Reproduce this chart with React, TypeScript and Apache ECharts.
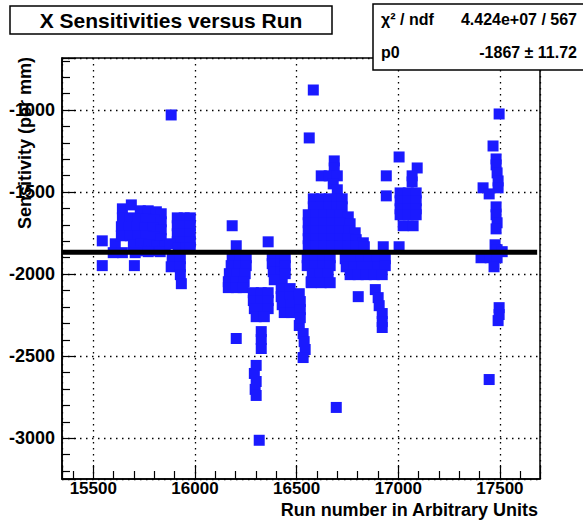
import React, { useEffect, useRef } from 'react';
import * as echarts from 'echarts';

// Axis extents (run number, sensitivity in per mm)
const runRange = [15346, 17697];
const sensRange = [-3248, -683];

// Constant (pol0) fit result
const fitP0 = -1867;
const fitEnd = 17683;

const chartTitle = 'X Sensitivities versus Run';
const xTitle = 'Run number in Arbitrary Units';
const yTitle = 'Sensitivity (per mm)';
const statsLabels = ['χ² / ndf', 'p0'];
const statsValues = ['4.424e+07 / 567', '-1867 ± 11.72'];

// [run, sensitivity] pairs, grouped by run period
const period1 = [
  [15544, -1797], [15544, -1948], [15702, -1948], [15608, -1815], [15598, -1869], [15643, -1869],
  [15643, -1602], [15687, -1578], [15731, -1614], [15770, -1614], [15810, -1620], [15834, -1632],
  [15643, -1657], [15682, -1657], [15721, -1663], [15761, -1663], [15800, -1669], [15834, -1681],
  [15638, -1711], [15677, -1711], [15716, -1711], [15756, -1717], [15795, -1717], [15834, -1730],
  [15638, -1766], [15682, -1766], [15721, -1766], [15761, -1766], [15800, -1772], [15834, -1784],
  [15697, -1821], [15736, -1815], [15775, -1821], [15815, -1827], [15854, -1827],
  [15711, -1857], [15751, -1857], [15790, -1857], [15829, -1863], [15706, -1869], [15770, -1863],
  [15913, -1657], [15947, -1657], [15977, -1657],
  [15913, -1705], [15947, -1705], [15977, -1705],
  [15913, -1754], [15947, -1754], [15977, -1754],
  [15913, -1803], [15947, -1803], [15977, -1803],
  [15879, -1815], [15918, -1839], [15957, -1839], [15977, -1839],
  [15888, -1906], [15928, -1906], [15883, -1955], [15928, -1955], [15928, -2003], [15933, -2058],
  [15883, -1030],
];

const period2 = [
  [16183, -1705], [16203, -1827],
  [16183, -1900], [16223, -1900], [16252, -1900],
  [16178, -1948], [16218, -1948], [16252, -1948],
  [16169, -1997], [16208, -1997], [16247, -1997],
  [16164, -2046], [16203, -2046], [16242, -2046],
  [16164, -2082], [16203, -2082], [16237, -2082],
  [16360, -1803],
  [16380, -1888], [16424, -1888], [16380, -1936], [16424, -1936],
  [16385, -1985], [16424, -1985], [16390, -2034], [16429, -2034],
  [16287, -2113], [16326, -2113], [16360, -2113],
  [16287, -2161], [16326, -2161], [16360, -2161],
  [16292, -2210], [16331, -2210], [16360, -2210],
  [16301, -2259], [16341, -2259],
  [16424, -2088], [16468, -2088], [16424, -2137], [16468, -2137],
  [16429, -2186], [16473, -2186], [16439, -2234], [16473, -2234],
  [16326, -2350], [16326, -2398], [16326, -2453],
  [16301, -2556], [16292, -2605], [16301, -2654], [16296, -2702], [16301, -2739],
  [16203, -2392], [16316, -3012],
  [16444, -1900], [16444, -1948], [16444, -1997],
];

const period3 = [
  [16513, -2313], [16532, -2362], [16537, -2411], [16542, -2459], [16532, -2508],
  [16513, -2119], [16518, -2167], [16518, -2216], [16518, -2265], [16572, -2046],
  [16685, -1310], [16685, -1353],
  [16621, -1401], [16660, -1401], [16700, -1401],
  [16680, -1450], [16700, -1486],
  [16582, -1541], [16621, -1541], [16660, -1541], [16700, -1541], [16724, -1541],
  [16582, -1590], [16621, -1590], [16660, -1590], [16700, -1590], [16724, -1590],
  [16557, -1638], [16596, -1638], [16636, -1638], [16675, -1638], [16714, -1638], [16754, -1651],
  [16557, -1687], [16596, -1687], [16636, -1687], [16675, -1687], [16714, -1687], [16763, -1693],
  [16557, -1736], [16596, -1736], [16636, -1736], [16675, -1736], [16714, -1736], [16759, -1736], [16788, -1748],
  [16557, -1784], [16596, -1784], [16636, -1784], [16675, -1784], [16714, -1784], [16754, -1784], [16793, -1790], [16828, -1809],
  [16557, -1827], [16596, -1827], [16636, -1827], [16675, -1827], [16714, -1827], [16754, -1827], [16793, -1827], [16833, -1833],
  [16926, -1833],
  [16552, -1900], [16591, -1900], [16631, -1900], [16665, -1900],
  [16552, -1948], [16591, -1948], [16631, -1948], [16665, -1948],
  [16577, -1997], [16616, -1997], [16655, -1997],
  [16572, -2052], [16621, -2052], [16665, -2052],
  [16739, -1906], [16778, -1906], [16818, -1906], [16857, -1906], [16896, -1906], [16936, -1906],
  [16744, -1955], [16783, -1955], [16823, -1955], [16862, -1955], [16901, -1955], [16936, -1948],
  [16763, -2003], [16803, -2003], [16842, -2003], [16882, -2003], [16921, -2003],
  [16803, -2137],
  [16887, -2094], [16901, -2143], [16906, -2192], [16921, -2240], [16921, -2289], [16921, -2325],
  [16582, -878], [16562, -1170], [16941, -1401], [16941, -1523], [16695, -2812],
];

const period4 = [
  [17004, -1286], [17093, -1353], [17068, -1401], [17068, -1438],
  [17009, -1505], [17049, -1505], [17088, -1505],
  [17009, -1553], [17049, -1553], [17088, -1553],
  [17009, -1602], [17049, -1602], [17088, -1602],
  [17009, -1638], [17049, -1638], [17088, -1638],
  [17024, -1705], [17073, -1705],
  [17004, -1833],
];

const period5 = [
  [17496, -1024], [17466, -1219], [17481, -1298], [17481, -1334],
  [17486, -1383], [17491, -1432], [17491, -1474], [17417, -1474], [17447, -1511],
  [17481, -1590], [17481, -1638], [17486, -1687], [17481, -1724],
  [17476, -1821], [17486, -1851], [17511, -1863],
  [17407, -1900], [17452, -1900], [17486, -1900], [17471, -1955],
  [17496, -2204], [17496, -2246], [17491, -2283], [17447, -2642],
];

const FONT = "'Liberation Sans', Arial, Helvetica, sans-serif";
const MARKER_BLUE = '#1a1aff';

function axisCommon(range: number[], labelMargin: number, labelSize: number) {
  return {
    type: 'value' as const,
    min: range[0],
    max: range[1],
    minInterval: 500,
    maxInterval: 500,
    axisLine: { show: true, onZero: false, lineStyle: { color: '#000', width: 1.5 } },
    axisTick: { show: true, inside: true, length: 14, lineStyle: { color: '#000', width: 1.2 } },
    minorTick: { show: true, splitNumber: 5, length: 8, lineStyle: { color: '#000', width: 1.2 } },
    minorSplitLine: { show: false },
    axisLabel: {
      show: true,
      margin: labelMargin,
      color: '#000',
      fontFamily: FONT,
      fontWeight: 'bold' as const,
      fontSize: labelSize,
      lineHeight: labelSize,
      showMinLabel: false,
      showMaxLabel: false,
      formatter: (v: number) => String(v),
    },
    splitLine: { show: true, lineStyle: { color: '#000', width: 1.3, type: [1.5, 4.5] } },
  };
}

export default function App() {
  const ref = useRef<HTMLDivElement>(null);

  useEffect(() => {
    if (!ref.current) return;
    const chart = echarts.init(ref.current, null, { renderer: 'svg' });
    const points = [...period1, ...period2, ...period3, ...period4, ...period5];

    chart.setOption({
      animation: false,
      grid: {
        left: 62,
        right: 43,
        top: 58,
        bottom: 41,
        show: true,
        borderColor: '#000',
        borderWidth: 1.5,
        backgroundColor: '#fff',
      },
      xAxis: axisCommon(runRange, 1, 17),
      yAxis: axisCommon(sensRange, 7, 18),
      series: [
        {
          type: 'scatter',
          data: points,
          symbol: 'rect',
          symbolSize: 11,
          itemStyle: { color: MARKER_BLUE, opacity: 1 },
          emphasis: { disabled: true },
          silent: true,
          z: 2,
        },
        {
          type: 'line',
          data: [[runRange[0], fitP0], [fitEnd, fitP0]],
          symbol: 'none',
          lineStyle: { color: '#000', width: 5 },
          silent: true,
          z: 5,
        },
      ],
      graphic: [
        {
          type: 'rect',
          z: 100,
          shape: { x: 10, y: 6, width: 322, height: 28 },
          style: { fill: '#fff', stroke: '#000', lineWidth: 1.5 },
        },
        {
          type: 'text',
          z: 101,
          x: 171,
          y: 20,
          style: {
            text: chartTitle,
            fill: '#000',
            fontFamily: FONT,
            fontWeight: 'bold',
            fontSize: 21,
            align: 'center',
            verticalAlign: 'middle',
          },
        },
        {
          type: 'rect',
          z: 100,
          shape: { x: 373, y: 4, width: 220, height: 66 },
          style: { fill: '#fff', stroke: '#000', lineWidth: 1.5 },
        },
        ...statsLabels.map((t, i) => ({
          type: 'text',
          z: 101,
          x: 381,
          y: 19 + i * 33,
          style: {
            text: t,
            fill: '#000',
            fontFamily: FONT,
            fontWeight: 'bold',
            fontSize: 16,
            align: 'left',
            verticalAlign: 'middle',
          },
        })),
        ...statsValues.map((t, i) => ({
          type: 'text',
          z: 101,
          x: 577,
          y: 19 + i * 33,
          style: {
            text: t,
            fill: '#000',
            fontFamily: FONT,
            fontWeight: 'bold',
            fontSize: 16,
            align: 'right',
            verticalAlign: 'middle',
          },
        })),
        {
          type: 'text',
          z: 101,
          x: 538,
          y: 510,
          style: {
            text: xTitle,
            fill: '#000',
            fontFamily: FONT,
            fontWeight: 'bold',
            fontSize: 18,
            lineHeight: 18,
            align: 'right',
            verticalAlign: 'middle',
          },
        },
        {
          type: 'text',
          z: 101,
          x: 25,
          y: 57,
          rotation: Math.PI / 2,
          style: {
            text: yTitle,
            fill: '#000',
            fontFamily: FONT,
            fontWeight: 'bold',
            fontSize: 18,
            align: 'right',
            verticalAlign: 'middle',
          },
        },
      ],
    });

    return () => chart.dispose();
  }, []);

  return (
    <div
      ref={ref}
      style={{ position: 'absolute', left: 0, top: 0, width: 583, height: 520, background: '#fff' }}
    />
  );
}
